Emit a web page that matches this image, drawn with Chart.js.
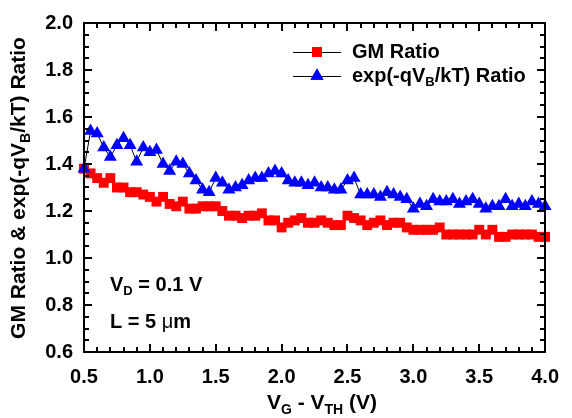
<!DOCTYPE html>
<html>
<head>
<meta charset="utf-8">
<script src="https://cdn.jsdelivr.net/npm/chart.js@4.4.1/dist/chart.umd.min.js"></script>
</head>
<body style="margin:0">
<canvas id="ratioChart" width="572" height="418"></canvas>
<script>
// V_G - V_TH (V)
const vg = [0.50, 0.55, 0.60, 0.65, 0.70, 0.75, 0.80, 0.85, 0.90, 0.95,
            1.00, 1.05, 1.10, 1.15, 1.20, 1.25, 1.30, 1.35, 1.40, 1.45,
            1.50, 1.55, 1.60, 1.65, 1.70, 1.75, 1.80, 1.85, 1.90, 1.95,
            2.00, 2.05, 2.10, 2.15, 2.20, 2.25, 2.30, 2.35, 2.40, 2.45,
            2.50, 2.55, 2.60, 2.65, 2.70, 2.75, 2.80, 2.85, 2.90, 2.95,
            3.00, 3.05, 3.10, 3.15, 3.20, 3.25, 3.30, 3.35, 3.40, 3.45,
            3.50, 3.55, 3.60, 3.65, 3.70, 3.75, 3.80, 3.85, 3.90, 3.95,
            4.00];

const gmRatio = [1.38, 1.36, 1.34, 1.32, 1.34, 1.30, 1.30, 1.28, 1.28, 1.27,
                 1.26, 1.24, 1.26, 1.23, 1.22, 1.24, 1.21, 1.21, 1.22, 1.22,
                 1.22, 1.20, 1.18, 1.18, 1.17, 1.18, 1.18, 1.19, 1.16, 1.16,
                 1.13, 1.15, 1.16, 1.17, 1.15, 1.15, 1.16, 1.15, 1.14, 1.14,
                 1.18, 1.17, 1.16, 1.14, 1.15, 1.16, 1.14, 1.15, 1.15, 1.13,
                 1.12, 1.12, 1.12, 1.12, 1.13, 1.10, 1.10, 1.10, 1.10, 1.10,
                 1.12, 1.10, 1.12, 1.09, 1.09, 1.10, 1.10, 1.10, 1.10, 1.09,
                 1.09];

const expRatio = [1.38, 1.54, 1.53, 1.47, 1.43, 1.48, 1.51, 1.48, 1.41, 1.47,
                  1.45, 1.46, 1.40, 1.37, 1.41, 1.40, 1.36, 1.33, 1.29, 1.28,
                  1.34, 1.32, 1.29, 1.30, 1.31, 1.33, 1.34, 1.34, 1.36, 1.37,
                  1.36, 1.33, 1.32, 1.32, 1.31, 1.32, 1.30, 1.30, 1.29, 1.29,
                  1.33, 1.34, 1.27, 1.27, 1.27, 1.26, 1.28, 1.27, 1.26, 1.25,
                  1.21, 1.23, 1.22, 1.25, 1.24, 1.24, 1.25, 1.23, 1.24, 1.25,
                  1.23, 1.21, 1.22, 1.22, 1.25, 1.22, 1.23, 1.22, 1.24, 1.23,
                  1.22];

const xTicks = [0.5, 1.0, 1.5, 2.0, 2.5, 3.0, 3.5, 4.0];
const yTicks = [0.6, 0.8, 1.0, 1.2, 1.4, 1.6, 1.8, 2.0];

const FONT = '"Liberation Sans", Arial, sans-serif';
const RED = '#ff0000';
const BLUE = '#0000ff';

// 아래첨자 포함 텍스트 그리기
function richText(ctx, parts, x, y, size, align) {
  const subSize = Math.round(size * 0.66);
  let w = 0;
  parts.forEach(p => {
    ctx.font = 'bold ' + (p.sub ? subSize : size) + 'px ' + FONT;
    w += ctx.measureText(p.t).width;
  });
  let cx = align === 'center' ? x - w / 2 : (align === 'right' ? x - w : x);
  ctx.textAlign = 'left';
  ctx.textBaseline = 'middle';
  parts.forEach(p => {
    ctx.font = 'bold ' + (p.sub ? subSize : size) + 'px ' + FONT;
    ctx.fillText(p.t, cx, y + (p.sub ? size * 0.32 : 0));
    cx += ctx.measureText(p.t).width;
  });
}

// 프레임 + 안쪽 눈금: 차트 생성 후 같은 캔버스에 직접 그림
function drawFrame(chart) {
  const ctx = chart.ctx;
  const sx = chart.scales.x;
  const sy = chart.scales.y;
  const a = chart.chartArea || {};
  const ok = v => typeof v === 'number' && isFinite(v);
  const xp = v => {
    const p = sx.getPixelForValue(v);
    return Math.round(ok(p) ? p : a.left + (v - 0.5) / 3.5 * (a.right - a.left));
  };
  const yp = v => {
    const p = sy.getPixelForValue(v);
    return Math.round(ok(p) ? p : a.bottom - (v - 0.6) / 1.4 * (a.bottom - a.top));
  };
  const xl = xp(0.5), xr = xp(4.0), yt = yp(2.0), yb = yp(0.6);
  console.log('frame', xl, xr, yt, yb, JSON.stringify(a), Chart.version);
  ctx.save();
  ctx.setTransform(1, 0, 0, 1, 0, 0);
  ctx.globalAlpha = 1;
  ctx.globalCompositeOperation = 'source-over';
  ctx.fillStyle = '#000000';
  ctx.fillRect(xl - 1, yt - 1, xr - xl + 2, 2);
  ctx.fillRect(xl - 1, yb - 1, xr - xl + 2, 2);
  ctx.fillRect(xl - 1, yt - 1, 2, yb - yt + 2);
  ctx.fillRect(xr - 1, yt - 1, 2, yb - yt + 2);
  for (let i = 0; i <= 35; i++) {
    const px = xp(0.5 + i * 0.1);
    const len = i % 5 === 0 ? 8 : 5;
    ctx.fillRect(px - 1, yb - len, 2, len);
    ctx.fillRect(px - 1, yt, 2, len);
  }
  for (let i = 0; i <= 28; i++) {
    const py = yp(0.6 + i * 0.05);
    const len = i % 4 === 0 ? 8 : 5;
    ctx.fillRect(xl, py - 1, len, 2);
    ctx.fillRect(xr - len, py - 1, len, 2);
  }
  ctx.restore();
}

const textPlugin = {
  id: 'extraText',
  afterDraw(chart) {
    const ctx = chart.ctx;
    ctx.save();
    ctx.fillStyle = '#000';

    // 범례
    const rows = [
      { y: 52, color: RED, style: 'rect', r: 7, parts: [{ t: 'GM Ratio' }] },
      { y: 76, color: BLUE, style: 'triangle', r: 7.5,
        parts: [{ t: 'exp(-qV' }, { t: 'B', sub: true }, { t: '/kT) Ratio' }] }
    ];
    rows.forEach(r => {
      ctx.fillStyle = '#000';
      ctx.fillRect(293, r.y, 48, 1);
      ctx.fillStyle = r.color;
      ctx.strokeStyle = r.color;
      Chart.helpers.drawPoint(ctx, { pointStyle: r.style, radius: r.r, borderWidth: 0 }, 317, r.y);
      ctx.fill();
      ctx.fillStyle = '#000';
      richText(ctx, r.parts, 352, r.y, 20, 'left');
    });

    // 조건 주석
    richText(ctx, [{ t: 'V' }, { t: 'D', sub: true }, { t: ' = 0.1 V' }], 110, 285, 20, 'left');
    ctx.font = 'bold 20px ' + FONT;
    ctx.textBaseline = 'middle';
    ctx.fillText('L = 5 ', 110, 322);
    const lw = ctx.measureText('L = 5 ').width;
    ctx.font = '20px ' + FONT;
    ctx.fillText('\u03bc', 110 + lw, 322);
    const mw = ctx.measureText('\u03bc').width;
    ctx.font = 'bold 20px ' + FONT;
    ctx.fillText('m', 110 + lw + mw, 322);

    // 축 제목
    richText(ctx, [{ t: 'V' }, { t: 'G', sub: true }, { t: ' - V' }, { t: 'TH', sub: true }, { t: ' (V)' }],
             322, 403, 21, 'center');
    ctx.save();
    ctx.translate(19, 188);
    ctx.rotate(-Math.PI / 2);
    richText(ctx, [{ t: 'GM Ratio & exp(-qV' }, { t: 'B', sub: true }, { t: '/kT) Ratio' }], 0, 0, 21, 'center');
    ctx.restore();

    ctx.restore();
  }
};

const chart = new Chart(document.getElementById('ratioChart'), {
  type: 'line',
  data: {
    datasets: [
      {
        label: 'GM Ratio',
        data: vg.map((v, i) => ({ x: v, y: gmRatio[i] })),
        borderColor: '#000',
        borderWidth: 1,
        pointStyle: 'rect',
        pointRadius: 7,
        pointBackgroundColor: RED,
        pointBorderColor: RED,
        pointBorderWidth: 0,
        clip: false,
        order: 2
      },
      {
        label: 'exp(-qVB/kT) Ratio',
        data: vg.map((v, i) => ({ x: v, y: expRatio[i] })),
        borderColor: '#000',
        borderWidth: 1,
        pointStyle: 'triangle',
        pointRadius: 7.5,
        pointBackgroundColor: BLUE,
        pointBorderColor: BLUE,
        pointBorderWidth: 0,
        clip: false,
        order: 1
      }
    ]
  },
  options: {
    responsive: false,
    animation: false,
    devicePixelRatio: 1,
    layout: { autoPadding: false, padding: { left: 0, right: 16, top: 16, bottom: 0 } },
    plugins: { legend: { display: false }, tooltip: { enabled: false } },
    scales: {
      x: {
        type: 'linear',
        min: 0.5,
        max: 4.0,
        afterBuildTicks: s => { s.ticks = xTicks.map(v => ({ value: v })); },
        afterFit: s => { s.height = 66; },
        grid: { display: false, drawTicks: false },
        border: { display: false },
        ticks: {
          color: '#000',
          font: { family: FONT, size: 20, weight: 'bold' },
          padding: 13,
          maxRotation: 0,
          autoSkip: false,
          callback: v => v.toFixed(1)
        }
      },
      y: {
        type: 'linear',
        min: 0.6,
        max: 2.0,
        afterBuildTicks: s => { s.ticks = yTicks.map(v => ({ value: v })); },
        afterFit: s => { s.width = 84; },
        grid: { display: false, drawTicks: false },
        border: { display: false },
        ticks: {
          color: '#000',
          font: { family: FONT, size: 20, weight: 'bold' },
          padding: 11,
          autoSkip: false,
          callback: v => v.toFixed(1)
        }
      }
    }
  },
  plugins: [textPlugin]
});

drawFrame(chart);
</script>
</body>
</html>
